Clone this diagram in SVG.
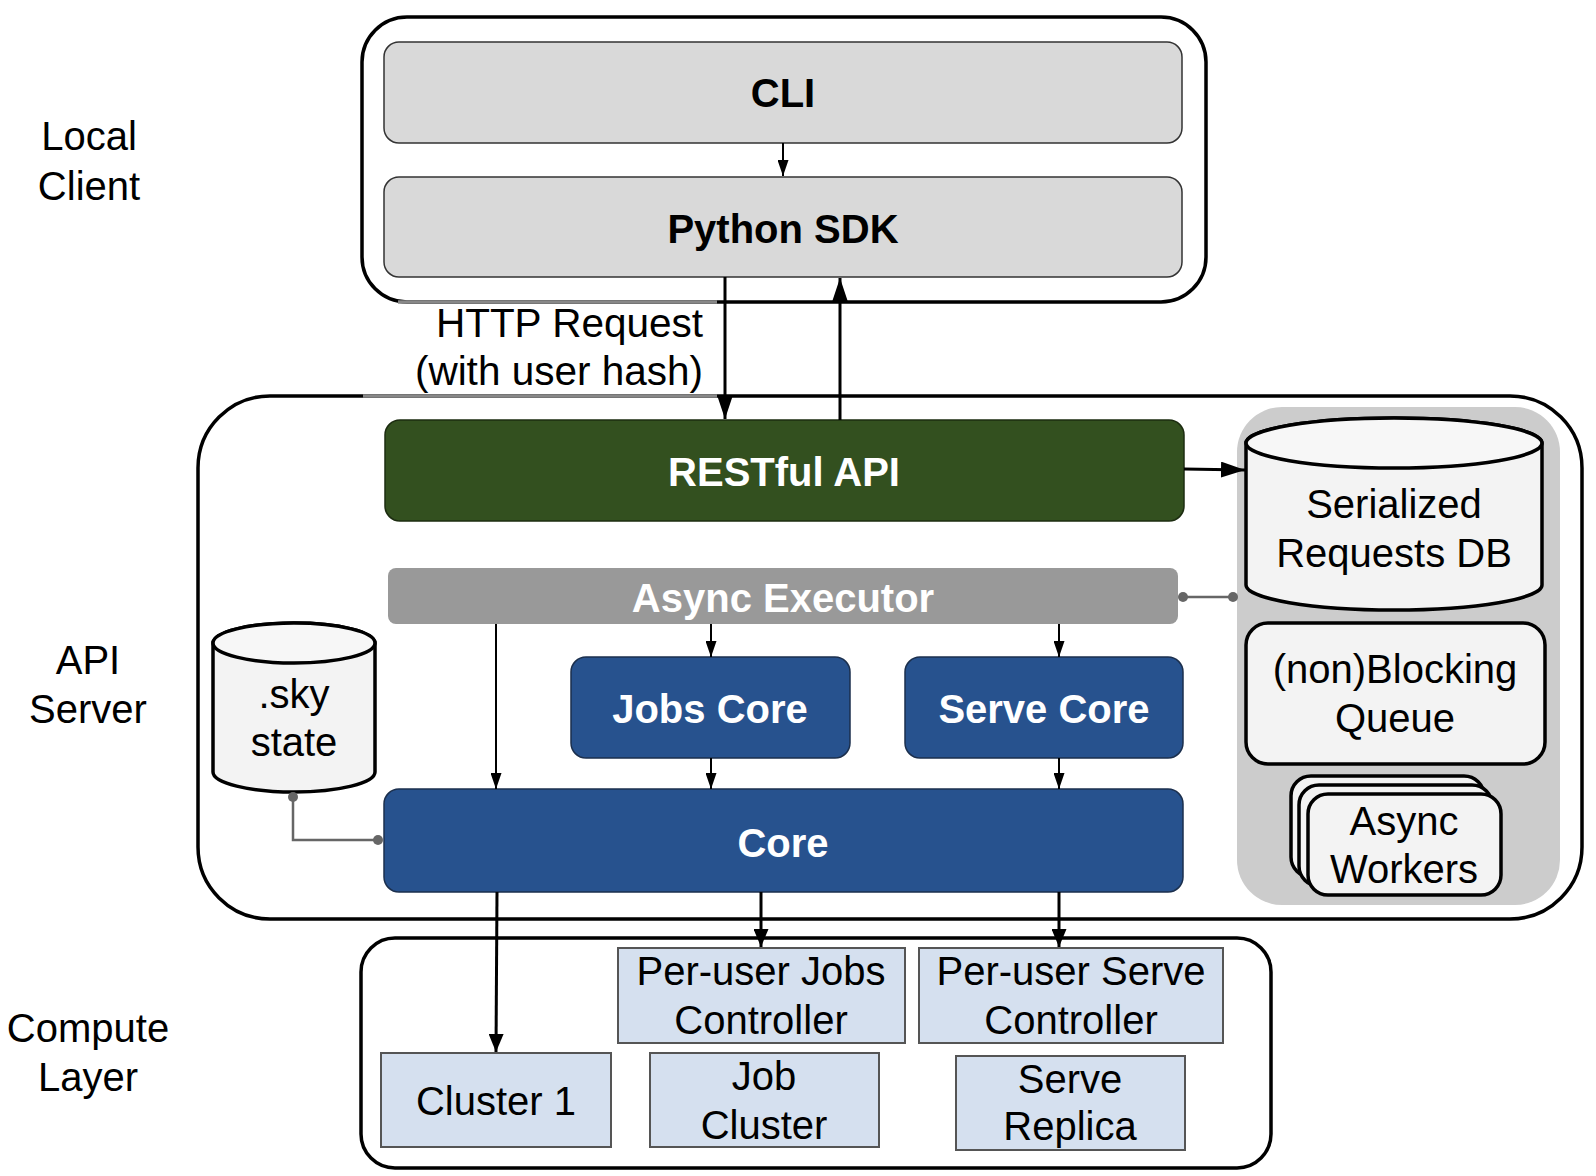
<svg xmlns="http://www.w3.org/2000/svg" width="1596" height="1176" viewBox="0 0 1596 1176">
<defs>
<style>
text{font-family:"Liberation Sans",Arial,sans-serif;font-size:40px;text-anchor:middle;fill:#000}
.b{font-weight:bold}
.w{fill:#fff}
.frame{fill:#fff;stroke:#000;stroke-width:3.5}
.light{fill:#d9d9d9;stroke:#333;stroke-width:1.5}
.blue{fill:#27528e;stroke:#1b2f4d;stroke-width:1.5}
.comp{fill:#d5e0ef;stroke:#555;stroke-width:2}
.store{fill:#f3f3f3;stroke:#000;stroke-width:3.5}
.c2{stroke:#000;stroke-width:2;fill:none}
.c3{stroke:#000;stroke-width:3;fill:none}
.g{stroke:#666;stroke-width:2.5;fill:none}
</style>
<marker id="a" viewBox="0 0 10 10" refX="10" refY="5" markerWidth="16" markerHeight="11" markerUnits="userSpaceOnUse" orient="auto" preserveAspectRatio="none">
<path d="M0,0L10,5L0,10Z" fill="#000"/>
</marker>
<marker id="aL" viewBox="0 0 10 10" refX="10" refY="5" markerWidth="24" markerHeight="16" markerUnits="userSpaceOnUse" orient="auto" preserveAspectRatio="none">
<path d="M0,0L10,5L0,10Z" fill="#000"/>
</marker>
<marker id="aM" viewBox="0 0 10 10" refX="10" refY="5" markerWidth="18" markerHeight="15" markerUnits="userSpaceOnUse" orient="auto" preserveAspectRatio="none">
<path d="M0,0L10,5L0,10Z" fill="#000"/>
</marker>
</defs>

<g id="labels">
<text x="89" y="150">Local</text><text x="89" y="200">Client</text>
<text x="88" y="674">API</text><text x="88" y="723">Server</text>
<text x="88" y="1042">Compute</text><text x="88" y="1091">Layer</text>
</g>

<g id="local-client">
<rect class="frame" x="362" y="17" width="844" height="285" rx="45"/>
</g>
<g id="api-server">
<rect class="frame" x="198" y="396" width="1384" height="523" rx="72"/>
</g>
<g id="compute-layer">
<rect class="frame" x="361" y="938" width="910" height="230" rx="34"/>
</g>

<g id="label-mask">
<path d="M398,302 H717" stroke="#888" stroke-width="3.5" fill="none"/>
<path d="M363,396 H717" stroke="#888" stroke-width="3.5" fill="none"/>
</g>

<g id="cli"><rect class="light" x="384" y="42" width="798" height="101" rx="15"/><text class="b" x="783" y="107">CLI</text></g>
<g id="python-sdk"><rect class="light" x="384" y="177" width="798" height="100" rx="15"/><text class="b" x="783" y="243">Python SDK</text></g>

<g id="http-label">
<text x="703" y="337" style="text-anchor:end;font-size:40.5px">HTTP Request</text>
<text x="703" y="385" style="text-anchor:end;font-size:40.5px">(with user hash)</text>
</g>

<g id="restful-api"><rect x="385" y="420" width="799" height="101" rx="15" fill="#33501f" stroke="#1c2c10" stroke-width="1.5"/><text class="b w" x="784" y="486">RESTful API</text></g>

<g id="async-executor"><rect x="388" y="568" width="790" height="56" rx="8" fill="#999"/><text class="b w" x="783" y="612">Async Executor</text></g>

<g id="jobs-core"><rect class="blue" x="571" y="657" width="279" height="101" rx="15"/><text class="b w" x="710" y="723">Jobs Core</text></g>
<g id="serve-core"><rect class="blue" x="905" y="657" width="278" height="101" rx="15"/><text class="b w" x="1044" y="723">Serve Core</text></g>
<g id="core"><rect class="blue" x="384" y="789" width="799" height="103" rx="15"/><text class="b w" x="783" y="857">Core</text></g>

<g id="sky-state">
<path class="store" d="M213,643 V772 A81,20 0 0 0 375,772 V643 A81,20 0 0 0 213,643 Z"/>
<ellipse cx="294" cy="643" rx="81" ry="20" fill="#f7f7f7" stroke="#000" stroke-width="3.5"/>
<text x="294" y="708">.sky</text><text x="294" y="756">state</text>
</g>

<g id="worker-panel">
<rect x="1237" y="407" width="323" height="498" rx="45" fill="#ccc"/>
</g>
<g id="requests-db">
<path class="store" d="M1246,443 V585 A148,25 0 0 0 1542,585 V443 A148,25 0 0 0 1246,443 Z"/>
<ellipse cx="1394" cy="443" rx="148" ry="25" fill="#f7f7f7" stroke="#000" stroke-width="3.5"/>
<text x="1394" y="518">Serialized</text><text x="1394" y="567">Requests DB</text>
</g>
<g id="queue">
<rect class="store" x="1246" y="623" width="299" height="141" rx="22"/>
<text x="1395" y="683">(non)Blocking</text><text x="1395" y="732">Queue</text>
</g>
<g id="async-workers">
<rect class="store" x="1291" y="776" width="193" height="101" rx="20"/>
<rect class="store" x="1299" y="785" width="193" height="101" rx="20"/>
<rect class="store" x="1308" y="794" width="193" height="101" rx="20"/>
<text x="1404" y="835">Async</text><text x="1404" y="883">Workers</text>
</g>

<g id="jobs-controller"><rect class="comp" x="618" y="948" width="287" height="95"/><text x="761" y="985">Per-user Jobs</text><text x="761" y="1034">Controller</text></g>
<g id="serve-controller"><rect class="comp" x="919" y="948" width="304" height="95"/><text x="1071" y="985">Per-user Serve</text><text x="1071" y="1034">Controller</text></g>
<g id="cluster-1"><rect class="comp" x="381" y="1053" width="230" height="94"/><text x="496" y="1115">Cluster 1</text></g>
<g id="job-cluster"><rect class="comp" x="650" y="1053" width="229" height="94"/><text x="764" y="1090">Job</text><text x="764" y="1139">Cluster</text></g>
<g id="serve-replica"><rect class="comp" x="956" y="1056" width="229" height="94"/><text x="1070" y="1093">Serve</text><text x="1070" y="1140">Replica</text></g>

<g id="connectors">
<path class="c2" d="M783,143 V176" marker-end="url(#a)"/>
<path class="c3" d="M725,277 V419" marker-end="url(#aL)"/>
<path class="c3" d="M840,420 V278" marker-end="url(#aL)"/>
<path class="c3" d="M1184,469 L1245,470" marker-end="url(#aL)"/>
<path class="g" d="M1183,597 H1233"/>
<circle cx="1183" cy="597" r="5" fill="#666"/><circle cx="1233" cy="597" r="5" fill="#666"/>
<path class="c2" d="M496,624 V789" marker-end="url(#a)"/>
<path class="c2" d="M711,624 V657" marker-end="url(#a)"/>
<path class="c2" d="M1059,624 V657" marker-end="url(#a)"/>
<path class="c2" d="M711,758 V789" marker-end="url(#a)"/>
<path class="c2" d="M1059,758 V789" marker-end="url(#a)"/>
<path class="g" d="M293,797 V840 H378"/>
<circle cx="293" cy="797" r="5" fill="#666"/><circle cx="378" cy="840" r="5" fill="#666"/>
<path class="c3" d="M497,892 L496,1052" marker-end="url(#aM)"/>
<path class="c3" d="M761,892 V947" marker-end="url(#aM)"/>
<path class="c3" d="M1059,892 V947" marker-end="url(#aM)"/>
</g>
</svg>
